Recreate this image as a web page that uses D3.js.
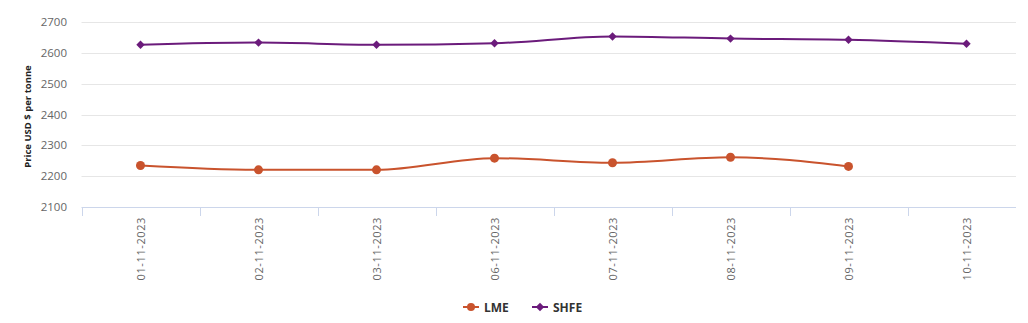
<!DOCTYPE html>
<html><head><meta charset="utf-8">
<script src="https://cdn.jsdelivr.net/npm/d3@7"></script>
<style>
html,body{margin:0;padding:0;background:#fff;}
svg{display:block;font-family:"Open Sans","DejaVu Sans",sans-serif;}
</style></head>
<body>
<svg id="chart" width="1028" height="323"></svg>
<script>
const categories = ["01-11-2023","02-11-2023","03-11-2023","06-11-2023","07-11-2023","08-11-2023","09-11-2023","10-11-2023"];
const lmeValues = [2234, 2220, 2220, 2258, 2243, 2261, 2231, null];
const shfeValues = [2627, 2634, 2627, 2632, 2654, 2647, 2643, 2630];
const yTicks = [2100, 2200, 2300, 2400, 2500, 2600, 2700];
const seriesNames = ["LME", "SHFE"];
const colors = {LME: "#c9532d", SHFE: "#6b1b7b"};

const svg = d3.select("#chart");
const plotLeft = 81.5, plotRight = 1016, bandRight = 1025.5, plotTop = 22.3, plotBottom = 206.7;

const x = d3.scaleBand().domain(categories).range([plotLeft, bandRight]).padding(0);
const y = d3.scaleLinear().domain([2100, 2700]).range([plotBottom, plotTop]);

// gridlines
svg.append("g").selectAll("line").data(yTicks.filter(t => t > 2100)).join("line")
  .attr("x1", plotLeft).attr("x2", plotRight)
  .attr("y1", d => Math.round(y(d)) + 0.5).attr("y2", d => Math.round(y(d)) + 0.5)
  .attr("stroke", "#e6e6e6").attr("stroke-width", 1);

// y labels
svg.append("g").selectAll("text").data(yTicks).join("text")
  .attr("x", 67).attr("y", d => y(d) + 4)
  .attr("text-anchor", "end")
  .attr("font-size", 11.5).attr("fill", "#666")
  .text(d => d);

// y axis title
svg.append("text")
  .attr("transform", `translate(31,${(plotTop + plotBottom) / 2 + 2}) rotate(-90)`)
  .attr("text-anchor", "middle")
  .attr("font-size", 9.5).attr("font-weight", "bold").attr("fill", "#222")
  .text("Price USD $ per tonne");

// x axis line
svg.append("line").attr("x1", plotLeft).attr("x2", plotRight)
  .attr("y1", Math.round(plotBottom) + 0.5).attr("y2", Math.round(plotBottom) + 0.5)
  .attr("stroke", "#ccd6eb");
// x ticks (band boundaries)
svg.append("g").selectAll("line").data(categories).join("line")
  .attr("x1", d => Math.round(x(d)) + 0.5).attr("x2", d => Math.round(x(d)) + 0.5)
  .attr("y1", Math.round(plotBottom)).attr("y2", Math.round(plotBottom) + 9)
  .attr("stroke", "#ccd6eb");

// x labels
svg.append("g").selectAll("text").data(categories).join("text")
  .attr("transform", d => `translate(${x(d) + x.bandwidth() / 2 + 4},217) rotate(-90)`)
  .attr("text-anchor", "end")
  .attr("font-size", 11).attr("fill", "#666").attr("letter-spacing", 0.6)
  .text(d => d);

const cx = d => x(d) + x.bandwidth() / 2;
const line = d3.line().defined(d => d.v != null).x(d => cx(d.c)).y(d => y(d.v)).curve(d3.curveMonotoneX);

const lmeData = categories.map((c, i) => ({c, v: lmeValues[i]}));
const shfeData = categories.map((c, i) => ({c, v: shfeValues[i]}));

svg.append("path").datum(shfeData).attr("d", line)
  .attr("fill", "none").attr("stroke", colors.SHFE).attr("stroke-width", 2);
svg.append("path").datum(lmeData).attr("d", line)
  .attr("fill", "none").attr("stroke", colors.LME).attr("stroke-width", 2);

const diamond = d3.symbol().type(d3.symbolDiamond2).size(45);
svg.append("g").selectAll("path").data(shfeData.filter(d => d.v != null)).join("path")
  .attr("d", diamond)
  .attr("transform", d => `translate(${cx(d.c)},${y(d.v)})`)
  .attr("fill", colors.SHFE);
svg.append("g").selectAll("circle").data(lmeData.filter(d => d.v != null)).join("circle")
  .attr("cx", d => cx(d.c)).attr("cy", d => y(d.v)).attr("r", 4.5)
  .attr("fill", colors.LME);

// legend
const legendItems = [
  {name: seriesNames[0], x: 463, shape: "circle"},
  {name: seriesNames[1], x: 532, shape: "diamond"}
];
const lg = svg.append("g").selectAll("g").data(legendItems).join("g")
  .attr("transform", d => `translate(${d.x},307)`);
lg.append("line").attr("x1", 0).attr("x2", 16).attr("y1", 0).attr("y2", 0)
  .attr("stroke", d => colors[d.name]).attr("stroke-width", 2);
lg.filter(d => d.shape === "circle").append("circle").attr("cx", 8).attr("cy", 0).attr("r", 4)
  .attr("fill", d => colors[d.name]);
lg.filter(d => d.shape === "diamond").append("path").attr("d", diamond)
  .attr("transform", "translate(8,0)").attr("fill", d => colors[d.name]);
lg.append("text").attr("x", 21).attr("y", 4.5)
  .attr("font-size", 12).attr("font-weight", "bold").attr("fill", "#333")
  .text(d => d.name);
</script>
</body></html>
